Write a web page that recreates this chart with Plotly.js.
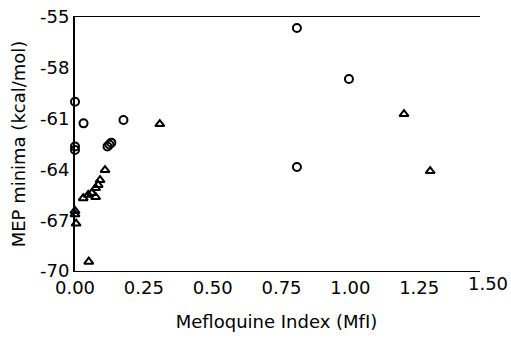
<!DOCTYPE html>
<html>
<head>
<meta charset="utf-8">
<script src="https://cdn.plot.ly/plotly-3.0.1.min.js"></script>
<style>html,body{margin:0;padding:0;background:#fff;}#chart{width:511px;height:344px;}</style>
</head>
<body>
<div id="chart"></div>
<script>
// Open circles
var circleX = [0, 0.031, 0.176, 0, 0, 0.118, 0.125, 0.132, 0.806, 0.995, 0.806];
var circleY = [-60.0, -61.28, -61.08, -62.65, -62.85, -62.65, -62.53, -62.42, -55.65, -58.66, -63.86];
// Open triangles
var triX = [0.308, 1.195, 1.29, 0.109, 0.091, 0.084, 0.075, 0.075, 0.061, 0.048, 0.03, 0, 0, 0.004, 0.05];
var triY = [-61.32, -60.73, -64.1, -64.04, -64.63, -64.92, -65.1, -65.63, -65.4, -65.5, -65.7, -66.45, -66.65, -67.2, -69.45];
// Axis ticks
var xTickVals = [0, 0.25, 0.5, 0.75, 1.0, 1.25];
var xTickText = ["0.00", "0.25", "0.50", "0.75", "1.00", "1.25"];
var xExtraTickVals = [1.5];
var xExtraTickText = ["1.50"];
var yTickVals = [-70, -67, -64, -61, -58, -55];
var yTickText = ["-70", "-67", "-64", "-61", "-58", "-55"];

var FONT = "DejaVu Sans";
var traces = [
  {x: [], y: [], type: 'scatter', mode: 'markers', hoverinfo: 'skip'},
  {x: circleX, y: circleY, xaxis: 'x2', yaxis: 'y', type: 'scatter', mode: 'markers', cliponaxis: false,
   marker: {symbol: 'circle-open', size: 8, color: '#000', line: {width: 2, color: '#000'}}},
  {x: triX, y: triY, xaxis: 'x2', yaxis: 'y', type: 'scatter', mode: 'markers', cliponaxis: false,
   marker: {symbol: 'triangle-up-open', size: 8, color: '#000', line: {width: 2, color: '#000'}}}
];
var layout = {
  width: 511, height: 344,
  margin: {l: 75, r: 23, t: 17, b: 73},
  paper_bgcolor: '#fff', plot_bgcolor: '#fff',
  showlegend: false,
  font: {family: FONT, size: 18, color: '#000'},
  xaxis: {
    domain: [0, 403/413], range: [0, 1.4637], showgrid: false, zeroline: false,
    showline: true, linewidth: 1.2, linecolor: '#000', mirror: true,
    ticks: 'inside', ticklen: 6, tickwidth: 1, tickcolor: '#000',
    tickmode: 'array', tickvals: xTickVals, ticktext: xTickText,
    tickfont: {family: FONT, size: 18, color: '#000'},
    title: {text: 'Mefloquine Index (MfI)', font: {family: FONT, size: 18, color: '#000'}, standoff: 18}
  },
  xaxis2: {
    domain: [0, 1], range: [0, 1.5], anchor: 'y', showgrid: false, zeroline: false,
    showline: false, ticks: '', tickmode: 'array', tickvals: xExtraTickVals, ticktext: xExtraTickText,
    tickfont: {family: FONT, size: 18, color: '#000'}
  },
  yaxis: {
    range: [-70, -55], showgrid: false, zeroline: false,
    showline: true, linewidth: 2, linecolor: '#000', mirror: true,
    ticks: 'inside', ticklen: 7, tickwidth: 1, tickcolor: '#000',
    tickmode: 'array', tickvals: yTickVals, ticktext: yTickText,
    tickfont: {family: FONT, size: 18, color: '#000'},
    title: {text: 'MEP minima (kcal/mol)', font: {family: FONT, size: 18, color: '#000'}, standoff: 10}
  }
};
Plotly.newPlot('chart', traces, layout, {staticPlot: true, displayModeBar: false});
</script>
</body>
</html>
